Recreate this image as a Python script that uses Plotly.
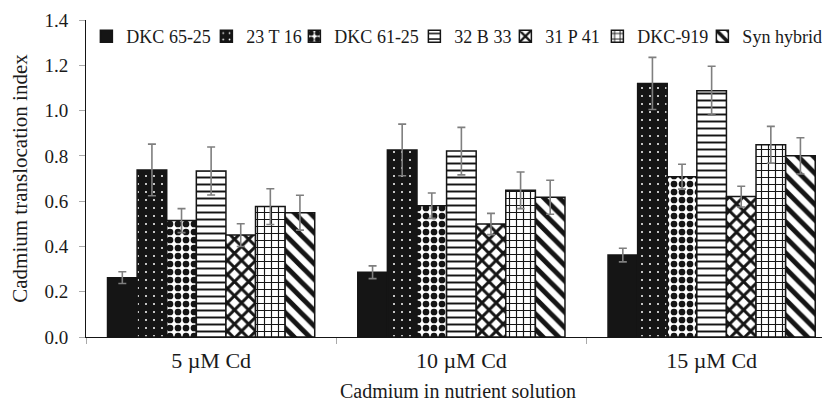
import plotly.graph_objects as go

categories = ["5 µM Cd", "10 µM Cd", "15 µM Cd"]
cultivars = ["DKC 65-25", "23 T 16", "DKC 61-25", "32 B 33", "31 P 41", "DKC-919", "Syn hybrid"]

dkc6525 = [0.262, 0.286, 0.362]
t2316 = [0.738, 0.826, 1.120]
dkc6125 = [0.514, 0.580, 0.708]
b3233 = [0.733, 0.821, 1.088]
p3141 = [0.450, 0.499, 0.620]
dkc919 = [0.576, 0.648, 0.849]
synhyb = [0.549, 0.617, 0.800]

err_dkc6525 = [0.026, 0.028, 0.030]
err_t2316 = [0.114, 0.114, 0.115]
err_dkc6125 = [0.053, 0.056, 0.055]
err_b3233 = [0.106, 0.105, 0.108]
err_p3141 = [0.050, 0.047, 0.046]
err_dkc919 = [0.079, 0.081, 0.081]
err_synhyb = [0.077, 0.075, 0.080]

values = [dkc6525, t2316, dkc6125, b3233, p3141, dkc919, synhyb]
errors = [err_dkc6525, err_t2316, err_dkc6125, err_b3233, err_p3141, err_dkc919, err_synhyb]

y_ticks = [0.0, 0.2, 0.4, 0.6, 0.8, 1.0, 1.2, 1.4]

BLACK = "#151515"
patterns = [
    dict(shape="", fgcolor=BLACK, bgcolor=BLACK),
    dict(shape=".", fgcolor="white", bgcolor=BLACK, size=8, solidity=0.05, fillmode="replace"),
    dict(shape=".", fgcolor=BLACK, bgcolor="white", size=8, solidity=0.55, fillmode="replace"),
    dict(shape="-", fgcolor=BLACK, bgcolor="white", size=7, solidity=0.28, fillmode="replace"),
    dict(shape="x", fgcolor=BLACK, bgcolor="white", size=10, solidity=0.5, fillmode="replace"),
    dict(shape="+", fgcolor=BLACK, bgcolor="white", size=7, solidity=0.3, fillmode="replace"),
    dict(shape="\\", fgcolor=BLACK, bgcolor="white", size=11, solidity=0.45, fillmode="replace"),
]
fills = [BLACK, BLACK, "white", "white", "white", "white", "white"]
legend_widths = [75, 43, 75, 46, 47, 60, 82]

FONT = "Liberation Serif, Times New Roman, serif"
TXT = "#1a1a1a"

fig = go.Figure()
for name, vals, errs, pat, fc, lw in zip(cultivars, values, errors, patterns, fills, legend_widths):
    fig.add_trace(go.Bar(
        name=name,
        x=categories,
        y=vals,
        error_y=dict(type="data", array=errs, visible=True, color="#7f7f7f", thickness=1.6, width=4),
        marker=dict(color=fc, pattern=pat, line=dict(color=BLACK, width=1.5)),
        legendwidth=lw,
    ))

fig.update_layout(
    width=822, height=396,
    margin=dict(l=78, r=0, t=12, b=67, autoexpand=False),
    paper_bgcolor="white", plot_bgcolor="white",
    barmode="group", bargap=0.172, bargroupgap=0,
    font=dict(family=FONT, size=19, color=TXT),
    showlegend=True,
    legend=dict(
        orientation="h", x=0.0005, xanchor="left", y=1.006, yanchor="top",
        font=dict(family=FONT, size=18, color=TXT),
        bgcolor="rgba(0,0,0,0)", traceorder="normal",
        itemclick=False, itemdoubleclick=False,
    ),
    xaxis=dict(
        range=[-0.5, 2.473],
        showline=True, linecolor=BLACK, linewidth=1,
        ticks="outside", tickson="boundaries", tickcolor="#aaaaaa", ticklen=6, tickwidth=1,
        showgrid=False, zeroline=False,
        ticklabelstandoff=4,
        tickfont=dict(family=FONT, size=22, color=TXT),
        title=dict(text="Cadmium in nutrient solution", font=dict(family=FONT, size=20, color=TXT), standoff=11),
    ),
    yaxis=dict(
        range=[0, 1.4],
        tickvals=y_ticks, tickformat=".1f",
        showline=True, linecolor=BLACK, linewidth=1,
        ticks="outside", tickcolor="#aaaaaa", ticklen=6, tickwidth=1,
        showgrid=False, zeroline=False,
        ticklabelstandoff=7,
        tickfont=dict(family=FONT, size=19, color=TXT),
        title=dict(text="Cadmium translocation index", font=dict(family=FONT, size=21, color=TXT), standoff=12),
    ),
)

fig.write_html("out.html")
